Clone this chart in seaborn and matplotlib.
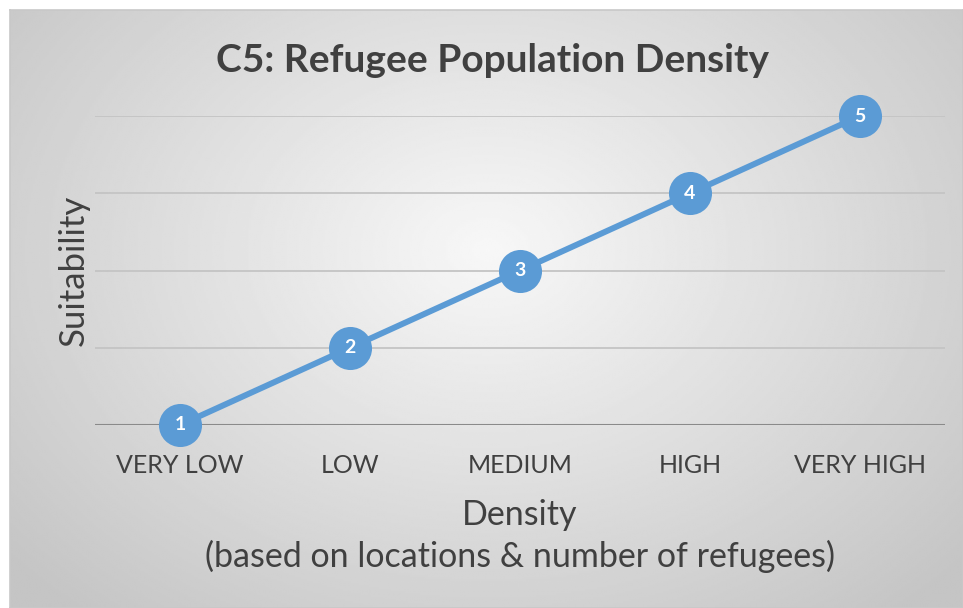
import matplotlib
matplotlib.use("Agg")
import matplotlib.pyplot as plt
import seaborn as sns
import pandas as pd
import numpy as np

categories = ["VERY LOW", "LOW", "MEDIUM", "HIGH", "VERY HIGH"]
suitability = [1, 2, 3, 4, 5]

sns.set_theme(style="white")
plt.rcParams["font.family"] = ["Lato", "DejaVu Sans"]

blue = "#5B9BD5"
text_col = "#404040"

fig = plt.figure(figsize=(9.63, 6.08), dpi=100)
fig.patch.set_facecolor("white")

# gradient background panel (Excel style)
bg = fig.add_axes([10 / 963, 0, 1 - 10 / 963, 1 - 10 / 608])
h, w = 300, 480
yy, xx = np.mgrid[0:h, 0:w]
cx, cy = 0.50 * w, 0.40 * h
r = np.sqrt(((xx - cx) / (0.60 * w)) ** 2 + ((yy - cy) / (0.72 * h)) ** 2)
shade = np.clip(0.97 - 0.18 * r, 0.77, 1.0)
bg.imshow(shade, cmap="gray", vmin=0, vmax=1, aspect="auto", interpolation="bilinear")
bg.set_xticks([])
bg.set_yticks([])
for s in bg.spines.values():
    s.set_color("#c8c8c8")
    s.set_linewidth(1.2)

ax = fig.add_axes([95 / 963, 1 - 425 / 608, 850 / 963, (425 - 116) / 608])
ax.patch.set_alpha(0)

df = pd.DataFrame({"Density": categories, "Suitability": suitability})
sns.lineplot(data=df, x="Density", y="Suitability", ax=ax, color=blue,
             linewidth=4.3, marker="o", markersize=31, markeredgewidth=0,
             sort=False, zorder=3, clip_on=False)

for i, v in enumerate(suitability):
    ax.text(i, v, str(v), color="white", fontsize=14, fontweight="bold",
            ha="center", va="center", zorder=4)

ax.set_xlim(-0.5, 4.5)
ax.set_ylim(1, 5)
ax.set_yticks([1, 2, 3, 4, 5])
ax.set_yticklabels([])
ax.yaxis.grid(True, color="#c4c4c4", linewidth=1.3)
ax.xaxis.grid(False)
for name, s in ax.spines.items():
    s.set_visible(False)
ax.axhline(1, color="#8a8a8a", linewidth=1.5, zorder=2)
ax.tick_params(axis="both", length=0)
ax.tick_params(axis="x", labelsize=18, labelcolor=text_col, pad=21)

ax.set_xlabel("Density\n(based on locations & number of refugees)",
              fontsize=24.5, color=text_col, labelpad=16, linespacing=1.32)
ax.set_ylabel("Suitability", fontsize=25, color=text_col, labelpad=0)

fig.text(492 / 963, 1 - 60 / 608, "C5: Refugee Population Density",
         fontsize=28, fontweight="bold", color=text_col, ha="center", va="center")

fig.savefig("out.png", dpi=100)
